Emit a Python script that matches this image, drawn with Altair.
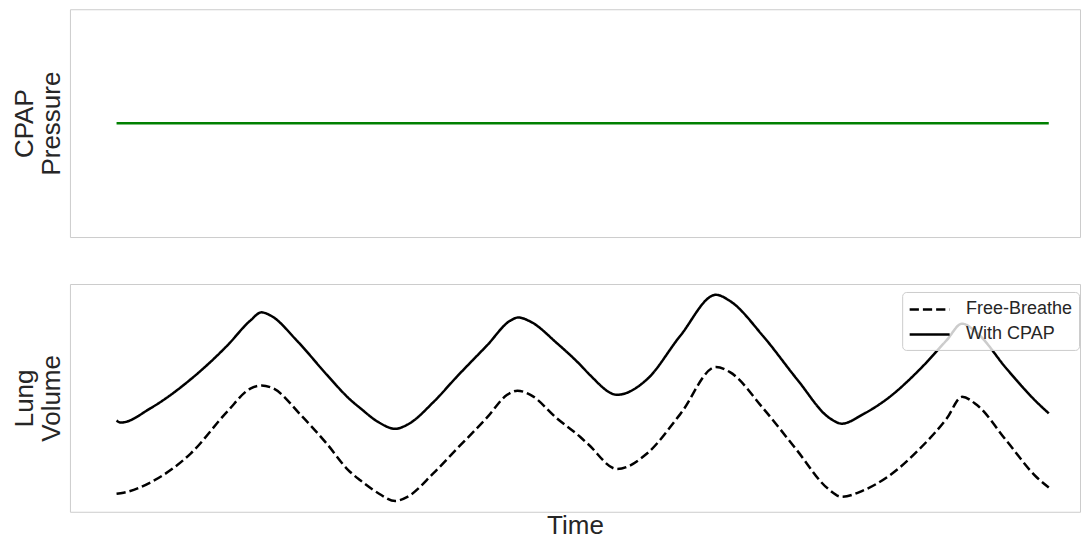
import altair as alt
import pandas as pd

# ---- data ----
series_names = ["Free-Breathe", "With CPAP"]

pressure_time = [0.0, 20.0]
pressure_values = [10.0, 10.0]

cpap_time = [0.00, 0.09, 0.73, 1.59, 2.38, 2.87, 3.11, 3.30, 3.88, 4.52, 5.02, 5.23,
             5.60, 5.98, 6.24, 6.80, 7.31, 7.95, 8.45, 8.62, 8.88, 9.45, 9.95, 10.16, 10.74,
             11.38, 12.09, 12.86, 13.16, 13.87, 14.60, 15.31, 15.56, 16.01, 16.53,
             17.24, 17.81, 18.14, 18.46, 19.10, 19.74, 20.00]
cpap_volume = [0.78, 0.76, 0.90, 1.18, 1.51, 1.75, 1.83, 1.80, 1.55, 1.22, 0.98, 0.90,
               0.77, 0.70, 0.74, 0.96, 1.21, 1.51, 1.75, 1.78, 1.74, 1.53, 1.32, 1.22, 1.03,
               1.18, 1.60, 2.00, 1.94, 1.60, 1.18, 0.80, 0.75, 0.84, 0.99,
               1.28, 1.56, 1.72, 1.63, 1.28, 0.96, 0.85]

free_time = [0.00, 0.15, 0.73, 1.59, 2.38, 2.87, 3.11, 3.37, 3.94, 4.52, 4.97, 5.23,
             5.60, 5.98, 6.24, 6.80, 7.31, 7.95, 8.38, 8.60, 8.88, 9.45, 9.95, 10.12, 10.74,
             11.38, 12.09, 12.86, 13.16, 13.87, 14.60, 15.26, 15.56, 16.01, 16.53,
             17.24, 17.81, 18.14, 18.46, 19.10, 19.74, 20.00]
free_volume = [0.07, 0.08, 0.18, 0.46, 0.87, 1.09, 1.12, 1.09, 0.84, 0.55, 0.30, 0.20,
               0.08, 0.00, 0.04, 0.27, 0.51, 0.81, 1.03, 1.07, 1.03, 0.80, 0.62, 0.55, 0.31,
               0.46, 0.84, 1.30, 1.25, 0.90, 0.49, 0.12, 0.04, 0.10, 0.23,
               0.51, 0.80, 1.01, 0.93, 0.58, 0.23, 0.13]

df_p = pd.DataFrame({"time": pressure_time, "pressure": pressure_values})
df_v = pd.concat([
    pd.DataFrame({"time": free_time, "volume": free_volume, "series": series_names[0]}),
    pd.DataFrame({"time": cpap_time, "volume": cpap_volume, "series": series_names[1]}),
], ignore_index=True)

x_scale = alt.Scale(domain=[-1.0, 20.67], nice=False, zero=False)
FONT = "Liberation Sans"
W, H = 1011, 228

def y_axis(title):
    return alt.Axis(title=title, labels=False, ticks=False, domain=False, grid=False)

top = alt.Chart(df_p).mark_line(color="green", strokeWidth=2.5).encode(
    x=alt.X("time:Q", scale=x_scale, axis=None),
    y=alt.Y("pressure:Q", scale=alt.Scale(domain=[9.5, 10.5], nice=False, zero=False),
            axis=y_axis(["CPAP", "Pressure"])),
).properties(width=W, height=H)

bottom = alt.Chart(df_v).mark_line(color="black", strokeWidth=2.5, interpolate="monotone").encode(
    x=alt.X("time:Q", scale=x_scale,
            axis=alt.Axis(title="Time", labels=False, ticks=False, domain=False, grid=False,
                          titlePadding=1)),
    y=alt.Y("volume:Q", scale=alt.Scale(domain=[-0.105, 2.105], nice=False, zero=False),
            axis=y_axis(["Lung", "Volume"])),
    strokeDash=alt.StrokeDash(
        "series:N",
        scale=alt.Scale(domain=series_names, range=[[9.25, 4], [1, 0]]),
        legend=alt.Legend(
            title=None, orient="none", legendX=833, legendY=8,
            fillColor="rgba(255,255,255,0.8)", strokeColor="#cccccc", cornerRadius=4,
            padding=6, symbolType="M-1,0H3", symbolSize=400, symbolStrokeWidth=2.5,
            symbolStrokeColor="black", labelFontSize=18, labelFont=FONT,
            labelColor="#262626", labelOffset=35, rowPadding=4,
        ),
    ),
).properties(width=W, height=H)

chart = alt.vconcat(top, bottom, spacing=45).resolve_legend(
    strokeDash="independent"
).properties(
    padding={"left": 3, "top": 0, "right": 0, "bottom": 0}
).configure_view(
    stroke="#cccccc", strokeWidth=1
).configure_axis(
    titleFont=FONT, titleFontSize=26, titleFontWeight="normal", titleColor="#262626",
    titleLineHeight=27, titlePadding=5,
)

chart.save("out.html", embed_options={"renderer": "svg", "actions": False})
